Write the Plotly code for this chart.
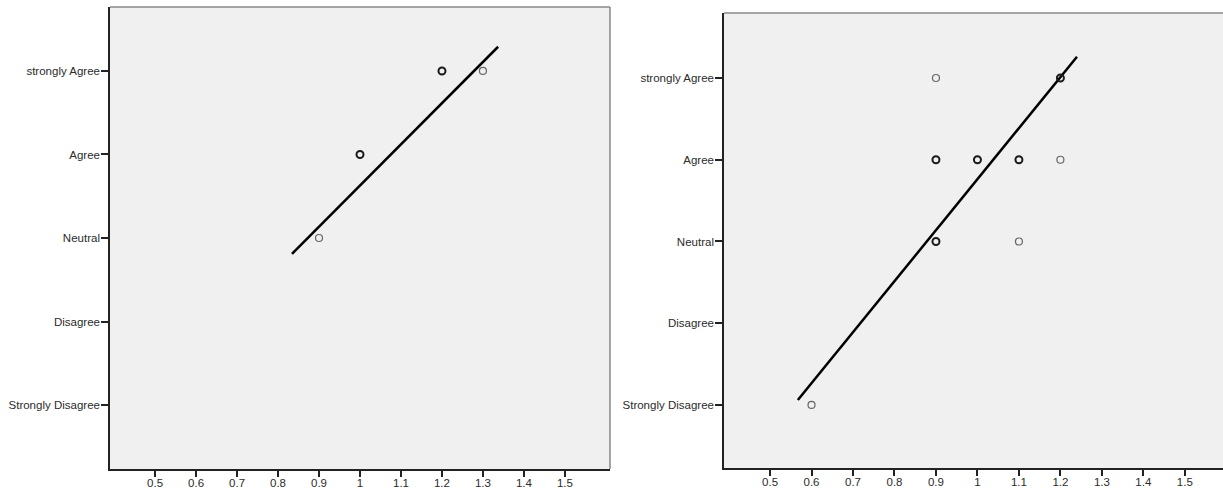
import plotly.graph_objects as go

categories = ["Strongly Disagree", "Disagree", "Neutral", "Agree", "strongly Agree"]
cat_values = [1, 2, 3, 4, 5]
x_ticks = [0.5, 0.6, 0.7, 0.8, 0.9, 1.0, 1.1, 1.2, 1.3, 1.4, 1.5]
x_tick_labels = ["0.5", "0.6", "0.7", "0.8", "0.9", "1", "1.1", "1.2", "1.3", "1.4", "1.5"]

# Left panel
left_x = [1.2, 1.3, 1.0, 0.9]
left_y = [5, 5, 4, 3]
left_multi = [True, False, True, False]
left_fit_x = [0.834, 1.337]
left_fit_y = [2.81, 5.29]

# Right panel
right_x = [0.9, 1.2, 0.9, 1.0, 1.1, 1.2, 0.9, 1.1, 0.6]
right_y = [5, 5, 4, 4, 4, 4, 3, 3, 1]
right_multi = [False, True, True, True, True, False, True, False, False]
right_fit_x = [0.567, 1.24]
right_fit_y = [1.06, 5.26]

fig = go.Figure()


def add_panel(xs, ys, multi, fx, fy, xa, ya):
    fig.add_trace(go.Scatter(
        x=fx, y=fy, mode="lines", xaxis=xa, yaxis=ya,
        line=dict(color="black", width=2.5), showlegend=False, hoverinfo="skip"))
    cols = ["#1a1a1a" if m else "#666666" for m in multi]
    fig.add_trace(go.Scatter(
        x=xs, y=ys, mode="markers", xaxis=xa, yaxis=ya, showlegend=False,
        marker=dict(symbol="circle-open", size=7, color=cols,
                    line=dict(width=[2 if m else 1.2 for m in multi], color=cols))))


add_panel(left_x, left_y, left_multi, left_fit_x, left_fit_y, "x", "y")
add_panel(right_x, right_y, right_multi, right_fit_x, right_fit_y, "x2", "y2")

W, H = 1223, 492
axis_font = dict(family="Liberation Sans, Arial, sans-serif", size=11.5, color="#2b2b2b")

xcommon = dict(tickmode="array", tickvals=x_ticks, ticktext=x_tick_labels,
               showgrid=False, zeroline=False, showline=True, linecolor="#222222",
               linewidth=1.5, ticks="outside", ticklen=6, tickwidth=1.5, tickcolor="#222222",
               tickfont=axis_font, fixedrange=True, ticklabelstandoff=-4)
ycommon = dict(tickmode="array", tickvals=cat_values, ticktext=categories,
               showgrid=False, zeroline=False, showline=True, linecolor="#222222",
               linewidth=1.5, ticks="outside", ticklen=7, tickwidth=1.5, tickcolor="#222222",
               tickfont=axis_font, fixedrange=True, ticklabelstandoff=-1)

L_dom_x = [110 / W, 610 / W]
L_dom_y = [(H - 469) / H, (H - 7) / H]
R_dom_x = [724 / W, 1.0]
R_dom_y = [(H - 468) / H, (H - 13) / H]

fig.update_layout(
    width=W, height=H,
    margin=dict(l=0, r=0, t=0, b=0),
    paper_bgcolor="white",
    plot_bgcolor="#f0f0f0",
    xaxis=dict(domain=L_dom_x, range=[0.39, 1.61], anchor="y", **xcommon),
    yaxis=dict(domain=L_dom_y, range=[0.234, 5.766], anchor="x", **ycommon),
    xaxis2=dict(domain=R_dom_x, range=[0.389, 1.592], anchor="y2", **xcommon),
    yaxis2=dict(domain=R_dom_y, range=[0.229, 5.795], anchor="x2", **ycommon),
    shapes=[
        dict(type="line", xref="paper", yref="paper", x0=L_dom_x[0], x1=L_dom_x[1],
             y0=L_dom_y[1], y1=L_dom_y[1], line=dict(color="#888888", width=1.5)),
        dict(type="line", xref="paper", yref="paper", x0=L_dom_x[1], x1=L_dom_x[1],
             y0=L_dom_y[0], y1=L_dom_y[1], line=dict(color="#888888", width=1.5)),
        dict(type="line", xref="paper", yref="paper", x0=R_dom_x[0], x1=R_dom_x[1],
             y0=R_dom_y[1], y1=R_dom_y[1], line=dict(color="#888888", width=1.5)),
    ],
)

fig.write_html(
    "out.html",
    config={"displayModeBar": False},
    post_script="document.body.style.margin='0';document.body.style.overflow='hidden';",
)
